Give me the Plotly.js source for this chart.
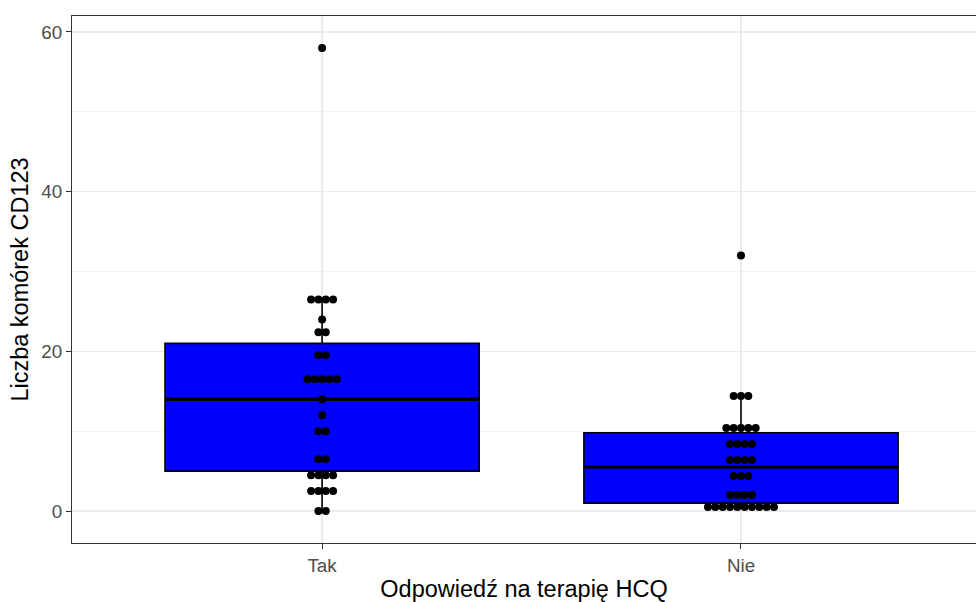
<!DOCTYPE html>
<html>
<head>
<meta charset="utf-8">
<script src="https://cdn.plot.ly/plotly-3.0.1.min.js"></script>
<style>html,body{margin:0;padding:0;background:#fff;}#chart{width:976px;height:602px;}</style>
</head>
<body>
<div id="chart"></div>
<script>
// Categories and values
const categories = ['Tak', 'Nie'];
const takValues = [58, 26.5, 26.5, 26.5, 26.5, 24, 22.4, 22.4, 19.5, 19.5,
  16.5, 16.5, 16.5, 16.5, 16.5, 14, 12, 10, 10, 6.5, 6.5,
  4.5, 4.5, 4.5, 4.5, 2.5, 2.5, 2.5, 2.5, 0, 0];
const nieValues = [32, 14.4, 14.4, 14.4, 10.4, 10.4, 10.4, 10.4, 10.4,
  8.4, 8.4, 8.4, 8.4, 6.4, 6.4, 6.4, 6.4, 4.4, 4.4, 4.4,
  2.0, 2.0, 2.0, 2.0, 0.5, 0.5, 0.5, 0.5, 0.5, 0.5, 0.5, 0.5, 0.5, 0.5];
// Box statistics
const q1Values = [5, 1];
const medianValues = [14, 5.5];
const q3Values = [21, 9.8];
const lowerFences = [0, 0.5];
const upperFences = [26.5, 14.4];

const groups = [takValues, nieValues];
const boxWidth = 0.75;
const dotStep = 0.0175;

const traces = [];
categories.forEach((c, i) => {
  traces.push({
    type: 'box', x: [i], q1: [q1Values[i]], median: [medianValues[i]], q3: [q3Values[i]],
    lowerfence: [lowerFences[i]], upperfence: [upperFences[i]],
    width: boxWidth, whiskerwidth: 0, boxpoints: false,
    fillcolor: '#0000FF', line: {color: '#000000', width: 1.6},
    showlegend: false, hoverinfo: 'skip'
  });
});
categories.forEach((c, i) => {
  traces.push({
    type: 'scatter', mode: 'lines',
    x: [i - boxWidth / 2, i + boxWidth / 2], y: [medianValues[i], medianValues[i]],
    line: {color: '#000000', width: 3.4}, showlegend: false, hoverinfo: 'skip'
  });
});
// dotplot, centered stacks
const dx = [], dy = [];
groups.forEach((vals, i) => {
  const counts = new Map();
  vals.forEach(v => counts.set(v, (counts.get(v) || 0) + 1));
  counts.forEach((n, v) => {
    for (let k = 0; k < n; k++) {
      dx.push(i + (k - (n - 1) / 2) * dotStep);
      dy.push(v);
    }
  });
});
traces.push({
  type: 'scatter', mode: 'markers', x: dx, y: dy,
  marker: {color: '#000000', size: 8, line: {width: 0}},
  showlegend: false, hoverinfo: 'skip'
});

const layout = {
  width: 976, height: 602,
  margin: {l: 72, r: 0, t: 16, b: 59},
  paper_bgcolor: '#ffffff', plot_bgcolor: '#ffffff',
  font: {family: 'Liberation Sans, Arial, sans-serif'},
  hovermode: false,
  xaxis: {
    range: [-0.597, 1.561], tickvals: [0, 1], ticktext: categories,
    showgrid: true, gridcolor: '#EBEBEB', gridwidth: 1.2,
    zeroline: false, showline: true, linecolor: '#333333', linewidth: 1, mirror: true,
    ticks: 'outside', ticklen: 5, tickcolor: '#333333', tickwidth: 1,
    tickfont: {size: 18.8, color: '#4D4D4D'},
    title: {text: 'Odpowiedź na terapię HCQ', font: {size: 23.5, color: '#000000'}, standoff: 6}
  },
  yaxis: {
    range: [-4.0, 62.0], tickvals: [0, 20, 40, 60],
    showgrid: true, gridcolor: '#EBEBEB', gridwidth: 1.2,
    minor: {tickvals: [10, 30, 50], showgrid: true, gridcolor: '#F4F4F4', gridwidth: 1, ticks: ''},
    zeroline: false, showline: true, linecolor: '#333333', linewidth: 1, mirror: true,
    ticks: 'outside', ticklen: 5, tickcolor: '#333333', tickwidth: 1,
    tickfont: {size: 18.8, color: '#4D4D4D'},
    title: {text: 'Liczba komórek CD123', font: {size: 23.5, color: '#000000'}, standoff: 6}
  }
};
Plotly.newPlot('chart', traces, layout, {staticPlot: true, displayModeBar: false});
</script>
</body>
</html>
